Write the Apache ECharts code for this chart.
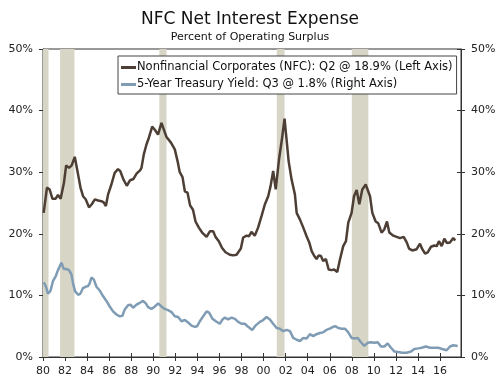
<!DOCTYPE html>
<html>
<head>
<meta charset="utf-8">
<script src="https://cdn.jsdelivr.net/npm/echarts@6/dist/echarts.min.js"></script>
<style>html,body{margin:0;padding:0;background:#fff;}#c{width:500px;height:385px;}</style>
</head>
<body>
<div id="c"></div>
<script>
var titleText = 'NFC Net Interest Expense';
var subtitleText = 'Percent of Operating Surplus';
var nfcName = 'Nonfinancial Corporates (NFC): Q2 @ 18.9% (Left Axis)';
var tsyName = '5-Year Treasury Yield: Q3 @ 1.8% (Right Axis)';

var nfcYears = [1980.06,1980.36,1980.6,1980.85,1981.15,1981.36,1981.6,1981.9,1982.1,1982.36,1982.6,1982.88,1983.1,1983.4,1983.63,1983.87,1984.17,1984.42,1984.7,1985.0,1985.3,1985.5,1985.7,1985.9,1986.2,1986.5,1986.8,1987.0,1987.3,1987.6,1987.9,1988.2,1988.5,1988.8,1988.93,1989.14,1989.38,1989.6,1989.9,1990.14,1990.43,1990.74,1990.9,1991.2,1991.6,1991.95,1992.2,1992.4,1992.65,1992.86,1993.1,1993.34,1993.6,1993.83,1994.13,1994.43,1994.83,1995.13,1995.43,1995.64,1995.94,1996.24,1996.55,1996.94,1997.24,1997.55,1997.7,1997.94,1998.15,1998.46,1998.67,1998.9,1999.2,1999.5,1999.82,2000.12,2000.42,2000.63,2000.87,2001.1,2001.4,2001.66,2001.9,2002.1,2002.27,2002.54,2002.84,2003.0,2003.3,2003.6,2003.9,2004.14,2004.36,2004.6,2004.8,2005.0,2005.2,2005.4,2005.65,2005.9,2006.17,2006.4,2006.68,2006.92,2007.22,2007.47,2007.68,2007.98,2008.2,2008.44,2008.68,2008.95,2009.26,2009.44,2009.65,2009.86,2010.16,2010.4,2010.7,2010.94,2011.19,2011.4,2011.76,2012.07,2012.37,2012.7,2012.98,2013.19,2013.49,2013.88,2014.18,2014.39,2014.64,2014.88,2015.18,2015.48,2015.7,2015.9,2016.15,2016.39,2016.63,2016.9,2017.2,2017.38];
var nfcValues = [23.4,27.5,27.2,25.7,25.7,26.3,25.7,28.3,31.1,30.7,31.1,32.5,30.4,27.5,26.1,25.6,24.3,24.8,25.6,25.4,25.3,25.1,24.5,26.4,28.0,29.9,30.5,30.2,28.8,27.8,28.7,28.9,29.8,30.3,30.7,32.9,34.5,35.6,37.4,36.9,36.1,38.0,37.7,35.7,34.8,33.7,31.8,30.0,29.2,26.9,26.7,24.6,23.9,22.0,21.0,20.2,19.5,20.4,20.4,19.5,18.8,17.7,17.0,16.6,16.5,16.6,16.5,17.6,19.4,19.7,19.6,20.3,19.7,21.0,22.9,24.8,26.1,27.7,30.2,27.2,32.1,35.3,38.7,35.0,31.8,28.8,26.4,23.4,22.3,21.0,19.6,18.6,17.2,16.4,15.9,16.5,16.4,15.6,15.9,14.2,14.1,14.2,13.8,15.8,18.0,18.8,21.8,23.4,26.1,27.1,24.8,27.2,28.0,27.8,26.1,23.4,22.0,21.7,20.2,20.7,22.0,20.2,19.7,19.5,19.3,19.5,18.6,17.6,17.3,17.5,18.4,17.5,16.8,17.0,17.9,18.1,18.0,18.8,18.0,19.2,18.5,18.6,19.3,18.9];

var tsyYears = [1980.06,1980.25,1980.45,1980.67,1980.9,1981.15,1981.36,1981.67,1981.88,1982.12,1982.36,1982.58,1982.72,1982.9,1983.18,1983.4,1983.63,1983.87,1984.08,1984.24,1984.39,1984.6,1984.85,1985.14,1985.44,1985.75,1986.05,1986.35,1986.66,1986.96,1987.2,1987.41,1987.71,1987.93,1988.17,1988.48,1988.78,1989.07,1989.32,1989.53,1989.84,1990.14,1990.44,1990.74,1991.04,1991.34,1991.65,1991.95,1992.25,1992.56,1992.86,1993.16,1993.47,1993.77,1993.98,1994.22,1994.52,1994.83,1995.06,1995.37,1995.67,1996.03,1996.28,1996.49,1996.79,1997.1,1997.4,1997.7,1998.0,1998.3,1998.6,1998.97,1999.27,1999.66,1999.96,2000.27,2000.57,2000.87,2001.18,2001.48,2001.78,2002.09,2002.39,2002.69,2003.0,2003.3,2003.6,2003.9,2004.2,2004.5,2004.8,2005.1,2005.4,2005.7,2006.0,2006.3,2006.53,2006.77,2007.08,2007.38,2007.68,2007.98,2008.28,2008.53,2008.83,2009.13,2009.44,2009.74,2010.04,2010.35,2010.64,2010.95,2011.25,2011.55,2011.85,2012.2,2012.58,2012.97,2013.37,2013.67,2014.03,2014.34,2014.7,2015.09,2015.48,2015.84,2016.2,2016.6,2016.9,2017.2,2017.6];
var tsyValues = [12.1,11.5,10.3,10.7,12.3,13.1,14.1,15.3,14.3,14.3,14.1,13.4,12.0,10.7,10.1,10.3,11.2,11.4,11.5,12.0,12.9,12.6,11.4,10.8,9.9,9.1,8.2,7.4,6.9,6.6,6.7,7.7,8.4,8.5,8.0,8.5,8.8,9.1,8.7,8.1,7.8,8.2,8.7,8.2,7.8,7.6,7.3,6.6,6.5,5.8,6.0,5.6,5.1,4.9,5.0,5.8,6.6,7.4,7.2,6.2,5.8,5.4,6.1,6.4,6.1,6.4,6.2,5.7,5.4,5.4,4.9,4.4,5.1,5.7,6.0,6.5,6.1,5.4,4.7,4.6,4.2,4.4,4.2,3.1,2.8,2.6,3.1,3.0,3.7,3.4,3.7,3.9,4.0,4.4,4.6,4.9,5.0,4.7,4.6,4.6,4.0,3.1,3.0,3.1,2.4,1.8,2.3,2.4,2.3,2.4,1.7,1.7,2.2,1.5,0.9,0.8,0.7,0.7,0.9,1.3,1.4,1.5,1.7,1.5,1.5,1.5,1.3,1.1,1.7,1.9,1.8];

var recessionStarts = [1980.0, 1981.55, 1990.55, 2001.2, 2008.0];
var recessionEnds   = [1980.5, 1982.85, 1991.2, 2001.9, 2009.5];

var yTicks = [0, 10, 20, 30, 40, 50];

function pairs(xs, ys) { return xs.map(function (x, i) { return [x, ys[i]]; }); }
var recessionAreas = recessionStarts.map(function (s, i) { return [{ xAxis: s }, { xAxis: recessionEnds[i] }]; });

var FONT = 'Verdana, "DejaVu Sans", sans-serif';
var AXC = '#333';
var xMin = 1980, xMax = 2017.9;

function xAx(main) {
  return {
    type: 'value', min: xMin, max: xMax, interval: 2, position: 'bottom',
    splitLine: { show: false },
    axisLine: { show: main, onZero: false, lineStyle: { color: AXC, width: 1 } },
    axisTick: { show: true, inside: !main, length: 4, lineStyle: { color: AXC } },
    axisLabel: {
      show: main, margin: 9, color: '#222', fontFamily: FONT, fontSize: 11,
      showMaxLabel: false,
      formatter: function (v) { return (Math.round(v) === v && v % 2 === 0) ? String(v).slice(2) : ''; }
    }
  };
}
function yAx(pos, main) {
  return {
    type: 'value', min: yTicks[0], max: yTicks[yTicks.length - 1], interval: 10, position: pos,
    splitLine: { show: false },
    axisLine: { show: main, lineStyle: { color: AXC, width: 1 } },
    axisTick: { show: true, inside: !main, length: 4, lineStyle: { color: AXC } },
    axisLabel: { show: main, margin: 10, color: '#222', fontFamily: FONT, fontSize: 11, formatter: '{value}%' }
  };
}

var chart = echarts.init(document.getElementById('c'), null, { renderer: 'canvas' });
chart.setOption({
  animation: false,
  backgroundColor: '#fff',
  title: [
    { text: titleText, left: 'center', top: 6, textStyle: { fontFamily: FONT, fontSize: 17, fontWeight: 'normal', color: '#111' } },
    { text: subtitleText, left: 'center', top: 27, textStyle: { fontFamily: FONT, fontSize: 11, fontWeight: 'normal', color: '#111' } }
  ],
  grid: { left: 43, right: 39, top: 49, bottom: 28, show: true, borderColor: AXC, borderWidth: 1, backgroundColor: 'transparent' },
  legend: {
    orient: 'vertical', left: 118, top: 56, width: 335,
    backgroundColor: '#fff', borderColor: '#444', borderWidth: 1,
    padding: [5, 4, 3, 3], itemGap: 4, itemWidth: 15, itemHeight: 3, icon: 'rect',
    textStyle: { fontFamily: FONT, fontSize: 11.5, color: '#111', padding: [0, 0, 0, -4], lineHeight: 13 },
    data: [nfcName, tsyName]
  },
  xAxis: [xAx(true), xAx(false)],
  yAxis: [yAx('left', true), yAx('right', true), yAx('left', false), yAx('right', false)],
  series: [
    {
      name: nfcName, type: 'line', xAxisIndex: 0, yAxisIndex: 0, symbol: 'none', z: 3,
      color: '#4d3f35', lineStyle: { color: '#4d3f35', width: 2.5 },
      data: pairs(nfcYears, nfcValues),
      markArea: { silent: true, itemStyle: { color: '#d7d5c5' }, data: recessionAreas }
    },
    {
      name: tsyName, type: 'line', xAxisIndex: 0, yAxisIndex: 1, symbol: 'none', z: 3,
      color: '#7f9cb4', lineStyle: { color: '#7f9cb4', width: 2.5 },
      data: pairs(tsyYears, tsyValues)
    }
  ]
});
</script>
</body>
</html>
